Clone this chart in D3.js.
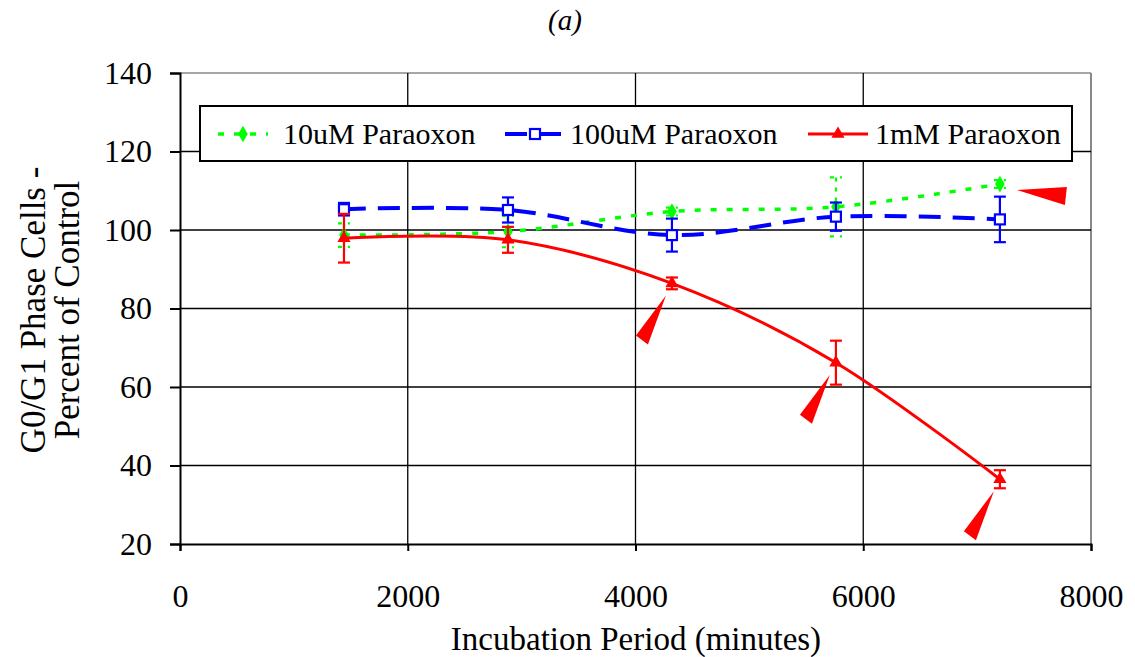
<!DOCTYPE html>
<html>
<head>
<meta charset="utf-8">
<script src="https://cdn.jsdelivr.net/npm/d3@7"></script>
<style>
  body { margin: 0; background: #fff; }
  text { font-family: "Liberation Serif", "Times New Roman", serif; fill: #000; }
</style>
</head>
<body>
<svg id="chart" width="1135" height="657"></svg>
<script>
// data
var minutes = [1440, 2880, 4320, 5760, 7200];
var uM10 = [98.7, 99.6, 104.7, 105.9, 111.7];
var uM10_err = [3, 4, 1, 7.5, 1];
var uM100 = [105.3, 105.1, 98.7, 103.4, 102.7];
var uM100_err = [1.6, 3.2, 4.2, 3.6, 5.8];
var mM1 = [97.9, 97.5, 86.4, 66.2, 36.5];
var mM1_err = [6.2, 3.3, 1.5, 5.6, 2.3];
var xTicks = [0, 2000, 4000, 6000, 8000];
var yTicks = [20, 40, 60, 80, 100, 120, 140];
var legendNames = ["10uM Paraoxon", "100uM Paraoxon", "1mM Paraoxon"];

var svg = d3.select("#chart");
var plotL = 180, plotR = 1091, plotT = 73, plotB = 544;

var x = d3.scaleLinear().domain([0, 8000]).range([plotL, plotR]);
var y = d3.scaleLinear().domain([20, 140]).range([plotB, plotT]);

// title
svg.append("text").attr("x", 565).attr("y", 30).attr("text-anchor", "middle")
  .style("font-size", "29px").style("font-style", "italic").text("(a)");

// plot border (grey top/right)
svg.append("line").attr("x1", plotL).attr("x2", plotR).attr("y1", plotT).attr("y2", plotT)
  .attr("stroke", "#888").attr("stroke-width", 1.5);
svg.append("line").attr("x1", plotR).attr("x2", plotR).attr("y1", plotT).attr("y2", plotB)
  .attr("stroke", "#888").attr("stroke-width", 2);

// gridlines
svg.append("g").selectAll("line").data(yTicks.filter(function(d) { return d > 20 && d < 140; }))
  .enter().append("line")
  .attr("x1", plotL).attr("x2", plotR)
  .attr("y1", function(d) { return y(d); }).attr("y2", function(d) { return y(d); })
  .attr("stroke", "#000").attr("stroke-width", 1.6);
svg.append("g").selectAll("line").data(xTicks.filter(function(d) { return d > 0 && d < 8000; }))
  .enter().append("line")
  .attr("y1", plotT).attr("y2", plotB)
  .attr("x1", function(d) { return x(d); }).attr("x2", function(d) { return x(d); })
  .attr("stroke", "#000").attr("stroke-width", 1.3);

// axes
var yAxis = svg.append("g").attr("transform", "translate(" + plotL + ",0)")
  .call(d3.axisLeft(y).tickValues(yTicks).tickSize(10).tickPadding(18));
var xAxis = svg.append("g").attr("transform", "translate(0," + plotB + ")")
  .call(d3.axisBottom(x).tickValues(xTicks).tickFormat(d3.format("d")).tickSize(7).tickPadding(56));
[yAxis, xAxis].forEach(function(a) {
  a.select(".domain").attr("stroke", "#000").attr("stroke-width", 2);
  a.selectAll(".tick line").attr("stroke", "#000").attr("stroke-width", 2);
  a.selectAll(".tick text").style("font-size", "32px")
    .style("font-family", "Liberation Serif, Times New Roman, serif").attr("fill", "#000");
});
xAxis.selectAll(".tick text").attr("dy", 0);

// axis titles
svg.append("text").attr("x", 636).attr("y", 650).attr("text-anchor", "middle")
  .style("font-size", "33px").text("Incubation Period (minutes)");
var yl = svg.append("text").attr("transform", "translate(45,310) rotate(-90)")
  .attr("text-anchor", "middle").style("font-size", "35px");
yl.append("tspan").attr("x", 0).attr("dy", 0).text("G0/G1 Phase Cells -");
yl.append("tspan").attr("x", 0).attr("dy", 34).text("Percent of Control");

var series = [
  { vals: uM10, err: uM10_err, color: "#00ff00", width: 3.5, dash: "6,10", marker: "diamond", errDash: "4,6" },
  { vals: uM100, err: uM100_err, color: "#0000ff", width: 4, dash: "22,12", marker: "square", errDash: null },
  { vals: mM1, err: mM1_err, color: "#ff0000", width: 3, dash: null, marker: "triangle", errDash: null }
];

var line = d3.line()
  .x(function(d, i) { return x(minutes[i]); })
  .y(function(d) { return y(d); })
  .curve(d3.curveCardinal.tension(0));

function drawMarker(g, kind, cx, cy, color) {
  if (kind == "diamond") {
    g.append("path").attr("d", d3.symbol(d3.symbolDiamond, 80)())
      .attr("transform", "translate(" + cx + "," + cy + ")").attr("fill", color);
  } else if (kind == "square") {
    g.append("rect").attr("x", cx - 5).attr("y", cy - 5).attr("width", 10).attr("height", 10)
      .attr("fill", "#fff").attr("stroke", color).attr("stroke-width", 2.2);
  } else {
    g.append("path").attr("d", d3.symbol(d3.symbolTriangle, 75)())
      .attr("transform", "translate(" + cx + "," + cy + ")").attr("fill", color);
  }
}

series.forEach(function(s) {
  var g = svg.append("g");
  g.append("path").datum(s.vals).attr("d", line).attr("fill", "none")
    .attr("stroke", s.color).attr("stroke-width", s.width)
    .attr("stroke-dasharray", s.dash);
  // error bars
  s.vals.forEach(function(v, i) {
    var cx = x(minutes[i]);
    var eb = g.append("g").attr("stroke", s.color).attr("stroke-width", 2.2)
      .attr("stroke-dasharray", s.errDash);
    eb.append("line").attr("x1", cx).attr("x2", cx).attr("y1", y(v + s.err[i])).attr("y2", y(v - s.err[i]));
    eb.append("line").attr("x1", cx - 6).attr("x2", cx + 6).attr("y1", y(v + s.err[i])).attr("y2", y(v + s.err[i]));
    eb.append("line").attr("x1", cx - 6).attr("x2", cx + 6).attr("y1", y(v - s.err[i])).attr("y2", y(v - s.err[i]));
  });
  s.vals.forEach(function(v, i) {
    drawMarker(g, s.marker, x(minutes[i]), y(v), s.color);
  });
});

// red annotation wedges, placed relative to the data points they mark
function wedge(px, py, tip, b1, b2) {
  svg.append("path")
    .attr("d", "M" + (px + tip[0]) + "," + (py + tip[1]) +
      "L" + (px + b1[0]) + "," + (py + b1[1]) +
      "L" + (px + b2[0]) + "," + (py + b2[1]) + "Z")
    .attr("fill", "#ff0000");
}
[2, 3, 4].forEach(function(i) {
  wedge(x(minutes[i]), y(mM1[i]), [-6, 12], [-36, 52], [-24, 61]);
});
wedge(x(minutes[4]), y(uM10[4]), [17, 6], [67, 3], [65, 21]);

// legend
var lg = svg.append("g");
lg.append("rect").attr("x", 200).attr("y", 106).attr("width", 872).attr("height", 55)
  .attr("fill", "#fff").attr("stroke", "#000").attr("stroke-width", 2);
var legendX = [218, 505, 808];
var legendW = [50, 60, 60];
var legendTextX = [283, 570, 875];
series.forEach(function(s, i) {
  var lx = legendX[i], ly = 134;
  lg.append("line").attr("x1", lx).attr("x2", lx + legendW[i]).attr("y1", ly).attr("y2", ly)
    .attr("stroke", s.color).attr("stroke-width", s.width).attr("stroke-dasharray", s.dash);
  drawMarker(lg, s.marker, lx + legendW[i] / 2, ly, s.color);
  lg.append("text").attr("x", legendTextX[i]).attr("y", 144).style("font-size", "30px").text(legendNames[i]);
});
</script>
</body>
</html>
